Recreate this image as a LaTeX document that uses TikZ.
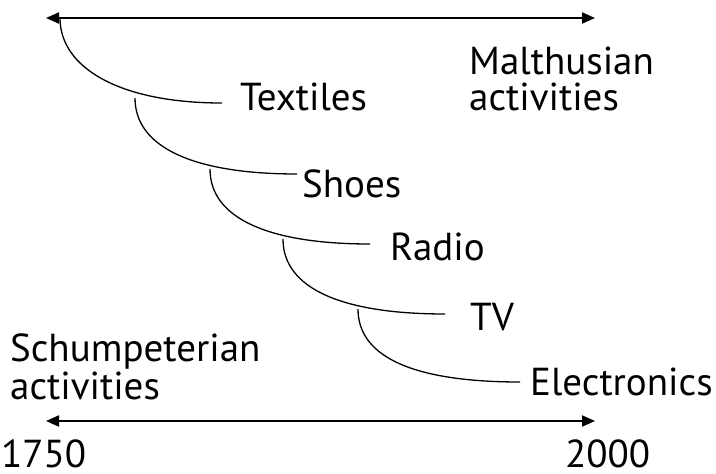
\documentclass[tikz,border=0pt]{standalone}
\usepackage{fontspec}
\setmainfont[Numbers=Lining]{PT Sans}
\usetikzlibrary{arrows.meta,calc}
\begin{document}
\begin{tikzpicture}[x=1pt,y=-1pt,
  lbl/.style={anchor=base west,inner sep=0pt,font=\fontsize{39}{42}\selectfont},
  axis/.style={line width=2pt,{Triangle[length=13pt,width=11pt]}-{Triangle[length=13pt,width=11pt]}},
  branch/.style={line width=1.3pt}]
\useasboundingbox (0,0) rectangle (716,474);
% axes
\coordinate (tl) at (46,18); \coordinate (tr) at (595,18);
\coordinate (bl) at (46,421); \coordinate (br) at (595,421);
\draw[axis] (tl) -- (tr);
\draw[axis] (bl) -- (br);
% labels
\node[lbl] (malt) at (469,74) {Malthusian};
\node[lbl] (acttop) at (469,110) {activities};
\node[lbl] (text) at (240,110) {Textiles};
\node[lbl] (shoes) at (302,197) {Shoes};
\node[lbl] (radio) at (390,260) {Radio};
\node[lbl] (tv) at (470,330) {TV};
\node[lbl] (elec) at (530,395) {Electronics};
\node[lbl] (schu) at (10,361) {Schumpeterian};
\node[lbl] (actbot) at (10,399) {activities};
\node[lbl] (y1) at (1,467) {1750};
\node[lbl] (y2) at (565,467) {2000};
% curve points
\coordinate (s1) at (60,18);  \coordinate (e1) at (222,103);
\coordinate (s2) at (135,98); \coordinate (e2) at (297,174);
\coordinate (s3) at (210,169); \coordinate (e3) at (370,244);
\coordinate (s4) at (283,239); \coordinate (e4) at (445,314);
\coordinate (s5) at (358,309); \coordinate (e5) at (520,382);
\foreach \i in {1,...,5}{
  \draw[branch] (s\i) .. controls ($(s\i)+(0,50)$) and ($(s\i|-e\i)+(60,0)$) .. (e\i);
}
\end{tikzpicture}
\end{document}
